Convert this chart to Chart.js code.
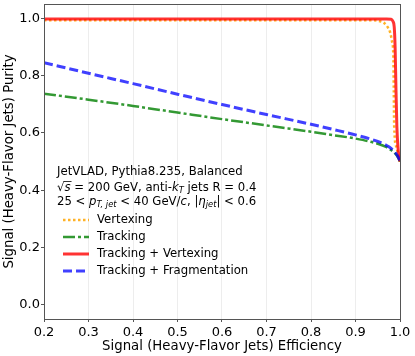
<!DOCTYPE html>
<html>
<head>
<meta charset="utf-8">
<script src="https://cdn.jsdelivr.net/npm/chart.js@4.4.0/dist/chart.umd.min.js"></script>
<style>
  html, body { margin: 0; padding: 0; background: #fff; }
  #wrap { width: 415px; height: 356px; }
</style>
</head>
<body>
<div id="wrap"><canvas id="rocChart" width="415" height="356"></canvas></div>
<script>
// signal efficiency vs purity
const effTracking = [0.2, 0.3, 0.4, 0.5, 0.6, 0.7, 0.8, 0.85, 0.9, 0.95, 0.97, 0.98, 0.99, 0.995, 1.0];
const purityTracking = [0.737, 0.716, 0.694, 0.671, 0.648, 0.626, 0.604, 0.592, 0.580, 0.562, 0.550, 0.540, 0.526, 0.515, 0.500];
const purityFragmentation = [0.845, 0.808, 0.772, 0.735, 0.699, 0.664, 0.630, 0.612, 0.593, 0.570, 0.556, 0.546, 0.530, 0.518, 0.502];

const effVertexing = [0.2, 0.5, 0.8, 0.94, 0.955, 0.965, 0.972, 0.978, 0.982, 0.985, 0.986, 0.987, 0.992, 1.0];
const purityVertexing = [0.993, 0.993, 0.993, 0.993, 0.99, 0.983, 0.97, 0.95, 0.92, 0.87, 0.75, 0.62, 0.55, 0.5];

const effTrkVtx = [0.2, 0.5, 0.8, 0.97, 0.98, 0.984, 0.987, 0.989, 0.991, 0.993, 0.996, 1.0];
const purityTrkVtx = [0.998, 0.998, 0.998, 0.998, 0.997, 0.99, 0.97, 0.9, 0.75, 0.62, 0.54, 0.5];

const xTicks = [0.2, 0.3, 0.4, 0.5, 0.6, 0.7, 0.8, 0.9, 1.0];
const yTicks = [0.0, 0.2, 0.4, 0.6, 0.8, 1.0];

const seriesNames = ['Vertexing', 'Tracking', 'Tracking + Vertexing', 'Tracking + Fragmentation'];

const FONT = '"DejaVu Sans", sans-serif';

function pts(xs, ys) {
  return xs.map((x, i) => ({ x: x, y: ys[i] }));
}

const styles = [
  { color: 'rgba(255,165,0,0.85)', dash: [2.5, 2.5], width: 2.5 },
  { color: 'rgba(0,128,0,0.8)', dash: [12, 3, 3, 3], width: 2.5 },
  { color: 'rgba(255,0,0,0.8)', dash: [], width: 3 },
  { color: 'rgba(0,0,255,0.75)', dash: [9, 4], width: 3 }
];

const datasets = [
  pts(effVertexing, purityVertexing),
  pts(effTracking, purityTracking),
  pts(effTrkVtx, purityTrkVtx),
  pts(effTracking, purityFragmentation)
].map((data, i) => ({
  label: seriesNames[i],
  data: data,
  borderColor: styles[i].color,
  borderDash: styles[i].dash,
  borderWidth: styles[i].width,
  pointRadius: 0,
  fill: false,
  cubicInterpolationMode: 'monotone',
  order: 4 - i
}));

const TXT = 11.7;

// draws runs of text with italics / subscripts
function drawRuns(ctx, x, y, runs) {
  runs.forEach(r => {
    const size = r.sub ? 8.3 : TXT;
    ctx.font = (r.italic ? 'italic ' : '') + size + 'px ' + FONT;
    const dy = r.sub ? 3 : 0;
    ctx.fillText(r.t, x, y + dy);
    const w = ctx.measureText(r.t).width;
    if (r.over) {
      ctx.beginPath();
      ctx.lineWidth = 0.8;
      ctx.moveTo(x - 1, y - 6.5);
      ctx.lineTo(x + w + 1, y - 6.5);
      ctx.stroke();
    }
    x += w;
  });
}

const overlay = {
  id: 'overlay',
  afterDraw(chart) {
    const ctx = chart.ctx;
    const a = chart.chartArea;
    ctx.save();
    // frame
    ctx.strokeStyle = '#555';
    ctx.lineWidth = 1;
    ctx.strokeRect(a.left + 0.5, a.top + 0.5, a.right - a.left, a.bottom - a.top);

    ctx.fillStyle = '#000';
    ctx.strokeStyle = '#000';
    ctx.textBaseline = 'middle';
    ctx.textAlign = 'left';
    const tx = 57;
    drawRuns(ctx, tx, 172, [{ t: 'JetVLAD, Pythia8.235, Balanced' }]);
    drawRuns(ctx, tx, 188, [
      { t: '√' }, { t: 's', italic: true, over: true },
      { t: ' = 200 GeV, anti-' }, { t: 'k', italic: true }, { t: 'T', italic: true, sub: true },
      { t: ' jets R = 0.4' }
    ]);
    drawRuns(ctx, tx, 202, [
      { t: '25 < ' }, { t: 'p', italic: true }, { t: 'T, jet', italic: true, sub: true },
      { t: ' < 40 GeV/' }, { t: 'c', italic: true }, { t: ', |' },
      { t: 'η', italic: true }, { t: 'jet', italic: true, sub: true }, { t: '| < 0.6' }
    ]);

    // legend
    seriesNames.forEach((name, i) => {
      const y = 220 + i * 17;
      ctx.beginPath();
      ctx.strokeStyle = styles[i].color;
      ctx.lineWidth = styles[i].width;
      ctx.setLineDash(styles[i].dash);
      ctx.moveTo(63, y);
      ctx.lineTo(89, y);
      ctx.stroke();
      ctx.setLineDash([]);
      ctx.fillStyle = '#000';
      ctx.font = TXT + 'px ' + FONT;
      ctx.fillText(name, 97, y);
    });
    ctx.restore();
  }
};

new Chart(document.getElementById('rocChart'), {
  type: 'line',
  data: { datasets: datasets },
  options: {
    responsive: false,
    animation: false,
    layout: { padding: { top: 4, right: 15, left: 0, bottom: 0 } },
    plugins: { legend: { display: false }, tooltip: { enabled: false } },
    scales: {
      x: {
        type: 'linear',
        min: 0.2,
        max: 1.0,
        afterFit: s => { s.height = 37; s.paddingLeft = 0; s.paddingRight = 0; },
        afterBuildTicks: s => { s.ticks = xTicks.map(v => ({ value: v })); },
        grid: { color: 'rgba(0,0,0,0.07)', tickColor: '#555', tickLength: 3, drawTicks: true },
        border: { display: false },
        ticks: { color: '#000', font: { family: FONT, size: 13 }, padding: 3, maxRotation: 0,
                 callback: v => v.toFixed(1) },
        title: { display: true, text: 'Signal (Heavy-Flavor Jets) Efficiency', color: '#000',
                 font: { family: FONT, size: 13.3 }, padding: { top: 0, bottom: 1 } }
      },
      y: {
        type: 'linear',
        min: -0.05,
        max: 1.05,
        afterFit: s => { s.width = 44; s.paddingTop = 0; s.paddingBottom = 0; },
        afterBuildTicks: s => { s.ticks = yTicks.map(v => ({ value: v })); },
        grid: { drawOnChartArea: false, tickColor: '#555', tickLength: 3 },
        border: { display: false },
        ticks: { color: '#000', font: { family: FONT, size: 13 }, padding: 1,
                 callback: v => v.toFixed(1) },
        title: { display: true, text: 'Signal (Heavy-Flavor Jets) Purity', color: '#000',
                 font: { family: FONT, size: 13.3 }, padding: { top: 2, bottom: 0 } }
      }
    }
  },
  plugins: [overlay]
});
</script>
</body>
</html>
